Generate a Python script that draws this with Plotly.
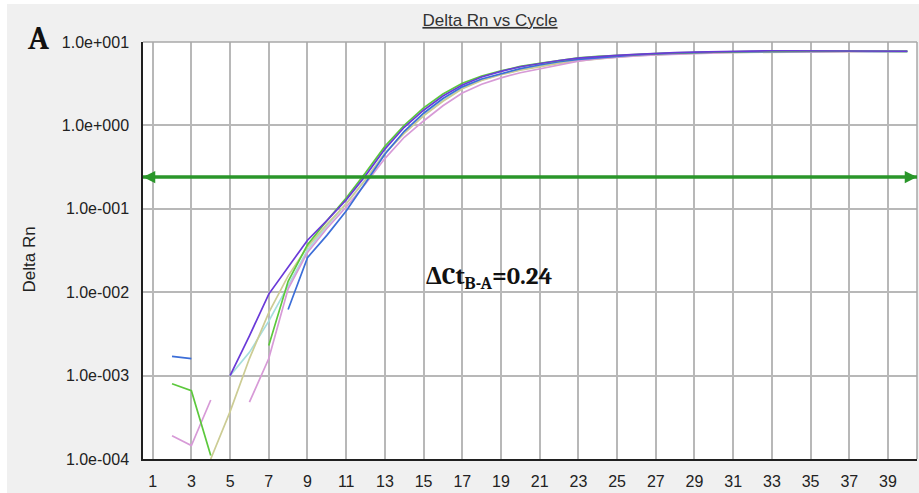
import math
import plotly.graph_objects as go

# ---------------- data ----------------
cycles = list(range(1, 41))

purple = [None, None, None, None, 1.0e-3, 3.0e-3, 9.5e-3, 0.020, 0.042, 0.072, 0.128, 0.25,
          0.52, 0.95, 1.52, 2.25, 3.05, 3.8, 4.45, 5.05, 5.55, 6.0, 6.4, 6.7, 6.9, 7.1, 7.3, 7.45,
          7.55, 7.65, 7.7, 7.75, 7.85, 7.85, 7.85, 7.8, 7.8, 7.75, 7.75, 7.75]
green = [None, 8.0e-4, 6.6e-4, 1.1e-4, None, None, 2.3e-3, 0.0135, 0.037, 0.072, 0.135, 0.27,
         0.56, 1.0, 1.62, 2.38, 3.2, 3.9, 4.5, 5.1, 5.55, 6.0, 6.45, 6.75, 6.95, 7.1, 7.25, 7.4,
         7.5, 7.6, 7.65, 7.7, 7.7, 7.75, 7.8, 7.8, 7.8, 7.75, 7.75, 7.7]
blue = [None, 1.7e-3, 1.6e-3, None, None, None, None, 6.2e-3, 0.026, 0.048, 0.094, 0.205,
        0.45, 0.85, 1.4, 2.1, 2.9, 3.6, 4.2, 4.8, 5.3, 5.8, 6.2, 6.5, 6.8, 7.0, 7.2, 7.35,
        7.45, 7.55, 7.6, 7.65, 7.7, 7.75, 7.75, 7.75, 7.75, 7.7, 7.7, 7.7]
pink = [None, 1.9e-4, 1.45e-4, 5.1e-4, None, 4.8e-4, 1.6e-3, 0.011, 0.03, 0.058, 0.105, 0.2,
        0.4, 0.72, 1.13, 1.72, 2.45, 3.12, 3.72, 4.28, 4.78, 5.35, 5.9, 6.3, 6.6, 6.8, 7.0, 7.15,
        7.3, 7.4, 7.5, 7.55, 7.6, 7.65, 7.65, 7.7, 7.7, 7.7, 7.7, 7.7]
cyan = [None, None, None, None, 1.0e-3, 1.9e-3, 4.5e-3, 0.012, 0.032, 0.062, 0.115, 0.225,
        0.47, 0.82, 1.32, 1.98, 2.78, 3.5, 4.1, 4.65, 5.15, 5.65, 6.05, 6.4, 6.65, 6.9, 7.1, 7.25,
        7.4, 7.5, 7.55, 7.6, 7.65, 7.7, 7.7, 7.7, 7.7, 7.7, 7.7, 7.7]
khaki = [None, None, None, 1.0e-4, 3.7e-4, 1.6e-3, 5.7e-3, 0.0157, 0.035, 0.065, 0.115, 0.225,
         0.46, 0.8, 1.3, 1.95, 2.75, 3.45, 4.05, 4.6, 5.1, 5.55, 5.95, 6.3, 6.6, 6.85, 7.05, 7.2,
         7.35, 7.45, 7.5, 7.55, 7.6, 7.65, 7.7, 7.7, 7.7, 7.7, 7.7, 7.7]

threshold = 0.24

x_tickvals = list(range(1, 40, 2))
y_tickvals = [1e-4, 1e-3, 1e-2, 1e-1, 1e0, 1e1]
y_ticktext = ["1.0e-004", "1.0e-003", "1.0e-002", "1.0e-001", "1.0e+000", "1.0e+001"]

title_text = "Delta Rn vs Cycle"
ylabel_text = "Delta Rn"
panel_label = "A"
delta_ct_text = "ΔCt<sub>B-A</sub>=0.24"

series = [
    ("cyan", cyan, "#a6dede"),
    ("khaki", khaki, "#cccc94"),
    ("pink", pink, "#d79ad7"),
    ("blue", blue, "#3c6ed8"),
    ("green", green, "#5cc83c"),
    ("purple", purple, "#6a3ad8"),
]

# ---------------- layout geometry ----------------
W, H = 919, 493
ML, MR, MT, MB = 143, 2, 42, 34
PW, PH = W - ML - MR, H - MT - MB


def px_x(px):
    return (px - ML) / PW


def px_y(py):
    return (H - MB - py) / PH


SANS = "Arial, Liberation Sans, sans-serif"
SERIF = "Cambria, Liberation Serif, serif"
GREEN = "#2a962a"
GRID = "#b8b8b8"

fig = go.Figure()
for name, vals, col in series:
    fig.add_trace(go.Scatter(x=cycles, y=vals, mode="lines", name=name,
                             line=dict(color=col, width=1.7), connectgaps=False,
                             showlegend=False))

shapes = [
    # white strips at the image border
    dict(type="rect", xref="paper", yref="paper", x0=px_x(0), x1=px_x(7), y0=px_y(H), y1=px_y(0),
         fillcolor="white", line=dict(width=0), layer="above"),
    dict(type="rect", xref="paper", yref="paper", x0=px_x(0), x1=px_x(W), y0=px_y(4), y1=px_y(0),
         fillcolor="white", line=dict(width=0), layer="above"),
    # top and right borders of the plot area
    dict(type="line", xref="paper", yref="paper", x0=0, x1=1, y0=1, y1=1,
         line=dict(color="#a8a8a8", width=1.5)),
    dict(type="line", xref="paper", yref="paper", x0=1, x1=1, y0=0, y1=1,
         line=dict(color="#a8a8a8", width=1.5)),
    # threshold line
    dict(type="line", xref="x domain", yref="y", x0=0, x1=1, y0=threshold, y1=threshold,
         line=dict(color=GREEN, width=3.5), layer="above"),
]

annotations = [
    dict(xref="x domain", yref="y", x=0, y=math.log10(threshold), ax=12, ay=0, text="",
         showarrow=True, arrowhead=2, arrowsize=0.7, arrowwidth=3.5, arrowcolor=GREEN, standoff=0),
    dict(xref="x domain", yref="y", x=1, y=math.log10(threshold), ax=-12, ay=0, text="",
         showarrow=True, arrowhead=2, arrowsize=0.7, arrowwidth=3.5, arrowcolor=GREEN, standoff=0),
    dict(xref="paper", yref="paper", x=px_x(38), y=px_y(38), text="<b>%s</b>" % panel_label,
         showarrow=False, xanchor="center", yanchor="middle",
         font=dict(family=SERIF, size=32, color="#111111")),
    dict(xref="paper", yref="paper", x=px_x(28.5), y=px_y(260), text=ylabel_text, textangle=-90,
         showarrow=False, xanchor="center", yanchor="middle",
         font=dict(family=SANS, size=17, color="#222222")),
    dict(xref="paper", yref="paper", x=px_x(489), y=px_y(277), text="<b>%s</b>" % delta_ct_text,
         showarrow=False, xanchor="center", yanchor="middle",
         font=dict(family=SERIF, size=25, color="#111111")),
]

fig.update_layout(
    width=W, height=H,
    margin=dict(l=ML, r=MR, t=MT, b=MB, pad=0),
    paper_bgcolor="#f0f0f0",
    plot_bgcolor="white",
    title=dict(text="<u>%s</u>" % title_text, xref="container", yref="container",
               x=490 / W, y=1 - 20 / H, xanchor="center", yanchor="middle",
               font=dict(family=SANS, size=17, color="#333333")),
    shapes=shapes,
    annotations=annotations,
    xaxis=dict(range=[0.5, 40.5], tickmode="array", tickvals=x_tickvals,
               showgrid=True, gridcolor=GRID, gridwidth=1.5,
               showline=True, linecolor="#202020", linewidth=1.5,
               ticks="", ticklabelstandoff=7, zeroline=False,
               tickfont=dict(family=SANS, size=16, color="#222222")),
    yaxis=dict(type="log", range=[-4, 1], tickmode="array", tickvals=y_tickvals,
               ticktext=y_ticktext, showgrid=True, gridcolor=GRID, gridwidth=1.5,
               showline=True, linecolor="#202020", linewidth=1.5,
               ticks="", ticklabelstandoff=9, zeroline=False,
               tickfont=dict(family=SANS, size=16, color="#222222")),
)

fig.write_html("out.html")
